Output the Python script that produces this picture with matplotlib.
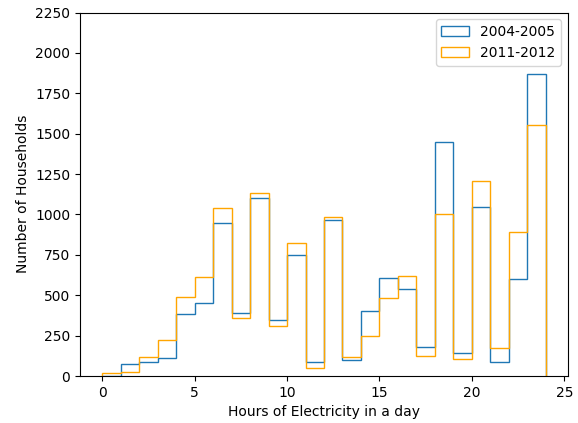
import numpy as np
import matplotlib
matplotlib.use("Agg")
import matplotlib.pyplot as plt

# hourly bins 0..24
bin_edges = np.arange(0, 25, 1)
hours = bin_edges[:-1]

# households per hours-of-electricity bin
households_2004 = [0, 72, 85, 109, 383, 449, 945, 389, 1100, 344, 752, 88,
                   964, 101, 402, 608, 536, 179, 1446, 144, 1046, 88, 600, 1870]
households_2011 = [16, 23, 115, 222, 490, 610, 1040, 358, 1135, 309, 824, 51,
                   985, 117, 249, 484, 620, 122, 1003, 107, 1207, 171, 892, 1551]

series_labels = ["2004-2005", "2011-2012"]

fig = plt.figure(figsize=(5.78, 4.23), dpi=100)
ax = fig.add_axes([0.1384, 0.1111, 0.8443, 0.8593])

ax.hist(hours, bins=bin_edges, weights=households_2004, histtype="step",
        color="#1f77b4", label=series_labels[0])
ax.hist(hours, bins=bin_edges, weights=households_2011, histtype="step",
        color="orange", label=series_labels[1])

ax.set_ylim(0, 2250)
ax.set_xlabel("Hours of Electricity in a day")
ax.set_ylabel("Number of Households")
ax.legend(loc="upper right")

plt.savefig("out.png", dpi=100)
